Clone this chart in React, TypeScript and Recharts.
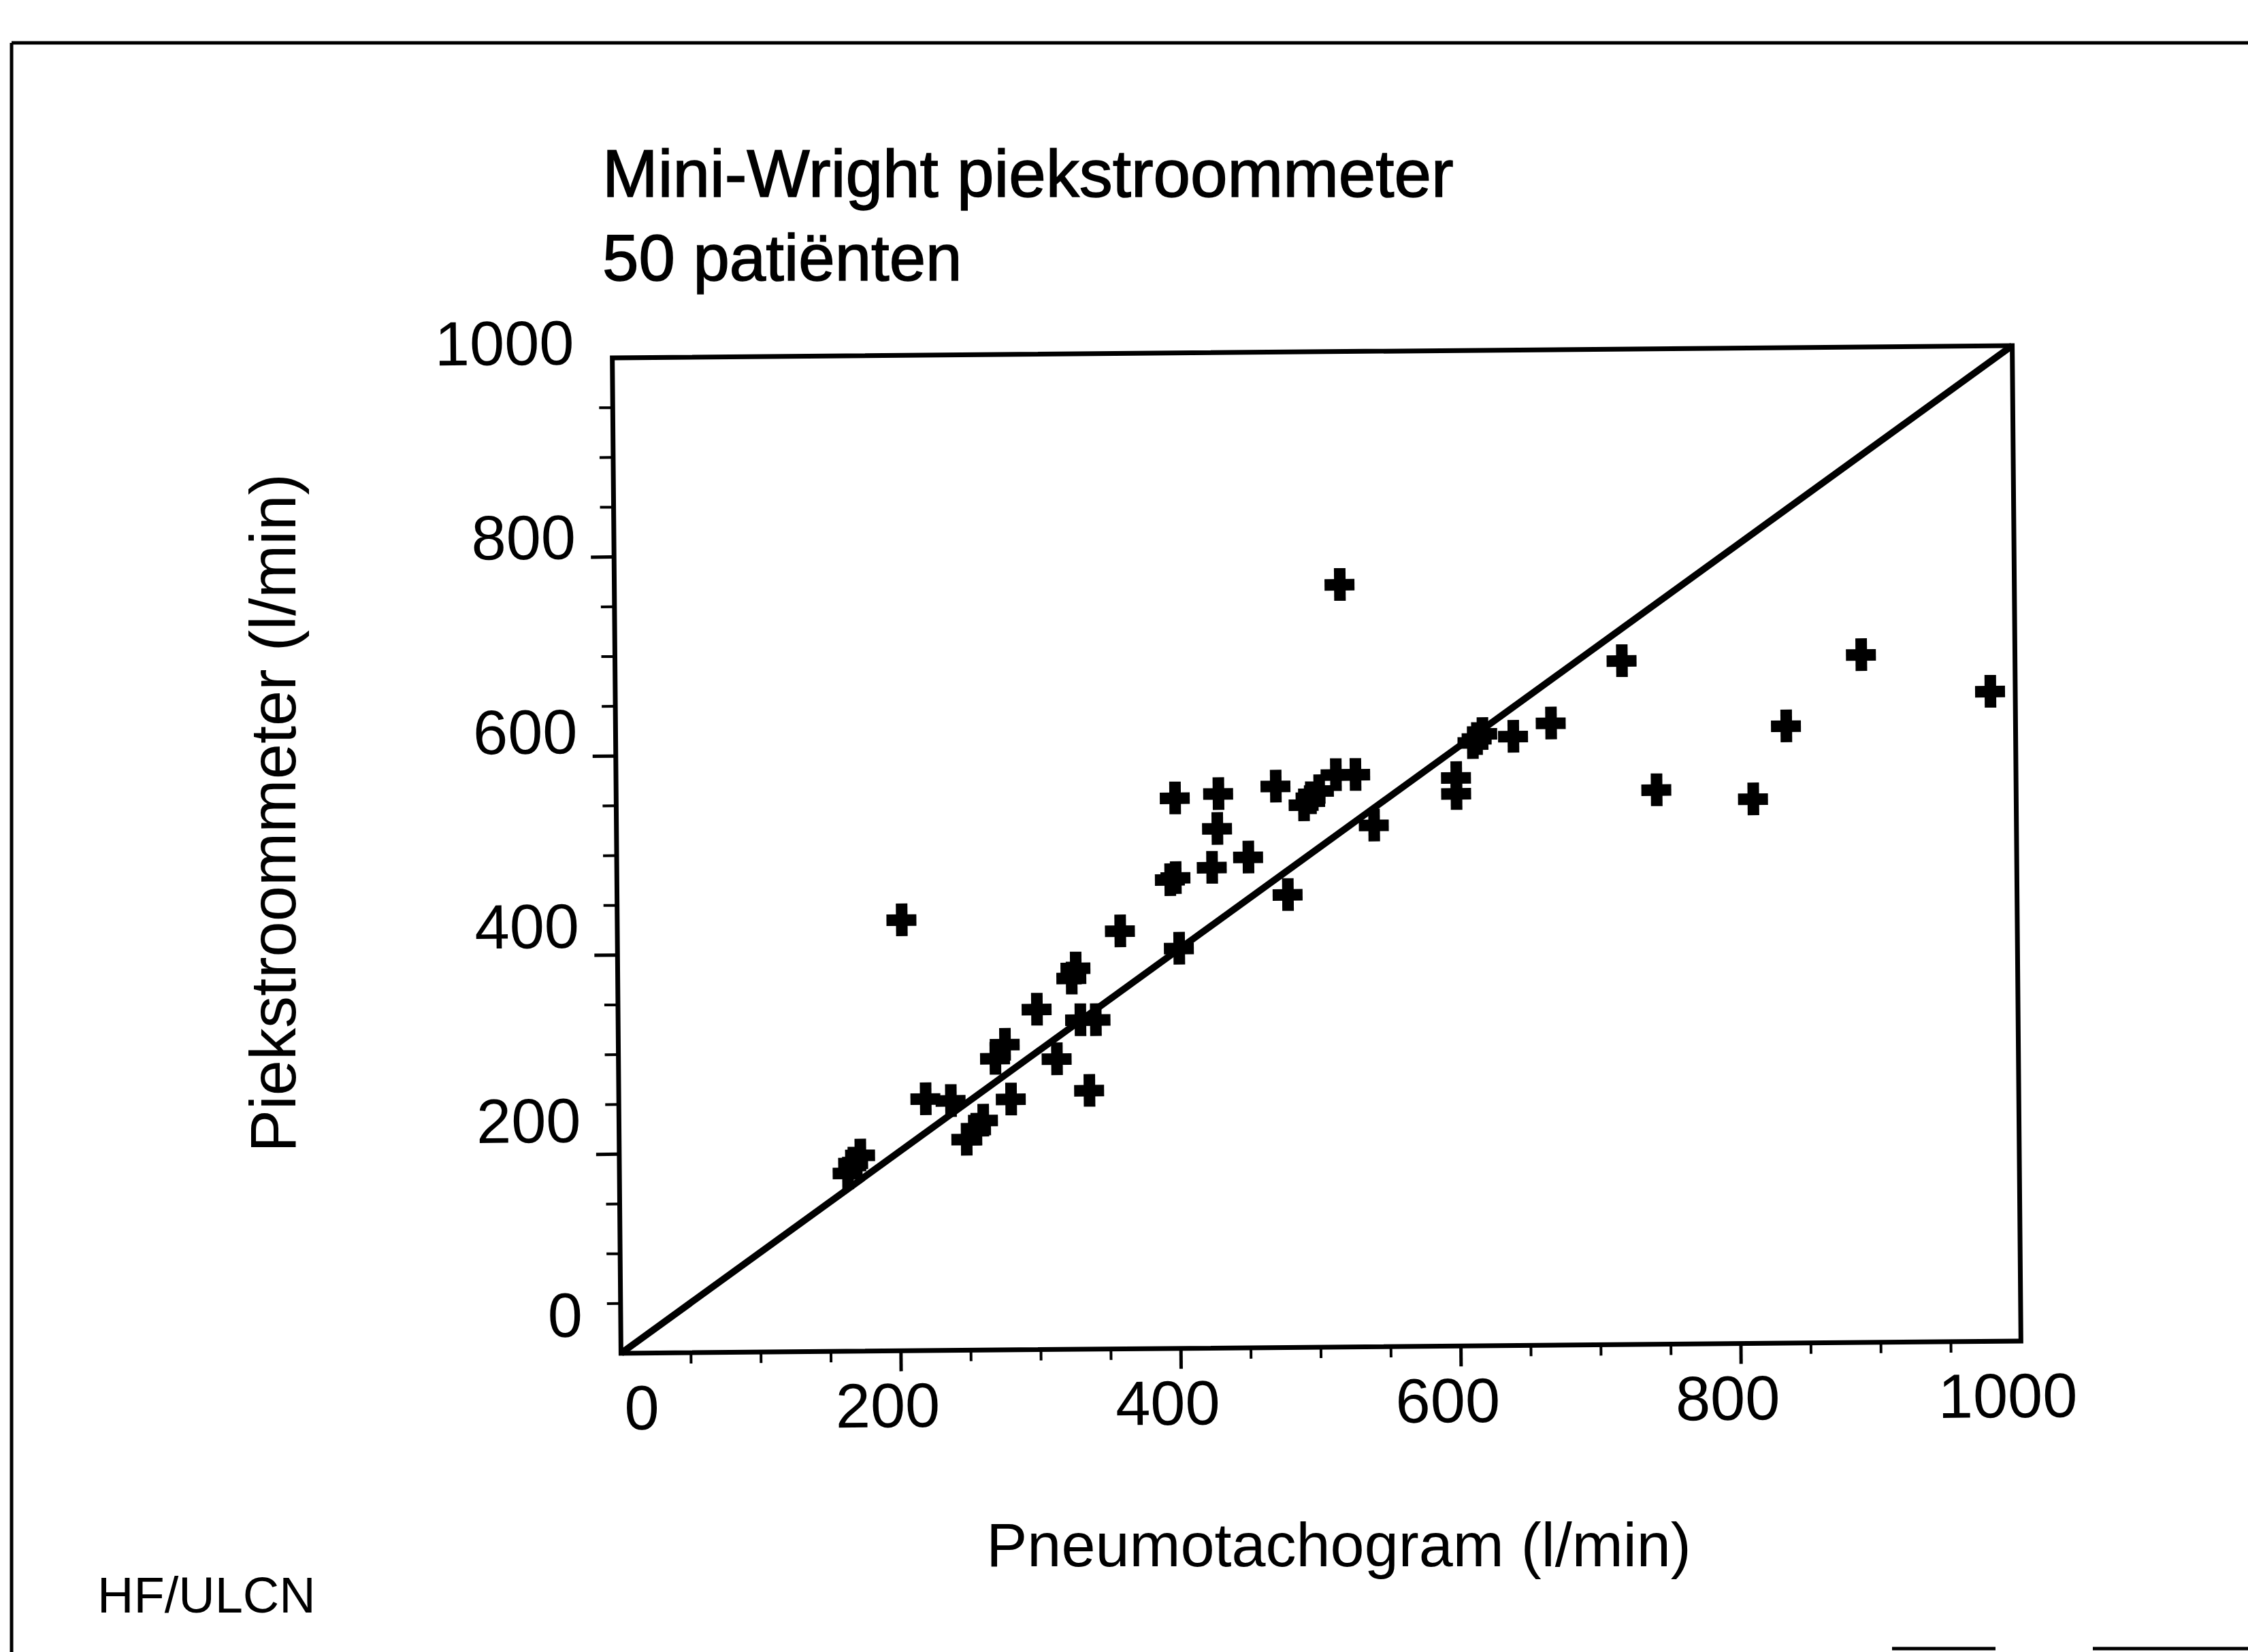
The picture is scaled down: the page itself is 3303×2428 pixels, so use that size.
import React from 'react'
import {
  ScatterChart,
  Scatter,
  XAxis,
  YAxis,
  ReferenceLine,
  ReferenceArea,
} from 'recharts'

// Pneumotachogram (l/min) against Mini-Wright reading (l/min), 50 patients
const pneumoValues = [
  163, 172, 167, 203, 219, 237, 248, 255, 260, 269, 276, 280, 299, 313, 327, 324, 330,
  341, 336, 359, 399, 399, 395, 401, 425, 430, 429, 451, 471, 479, 491, 496, 502, 514,
  528, 518, 541, 600, 600, 612, 619, 615, 641, 668, 719, 743, 812, 836, 890, 982,
]
const miniWrightValues = [
  179, 197, 189, 433, 253, 251, 212, 222, 231, 293, 307, 252, 342, 292, 383, 373, 331,
  331, 260, 420, 553, 473, 471, 402, 483, 557, 522, 493, 564, 455, 545, 552, 559, 575,
  575, 766, 524, 571, 555, 606, 615, 610, 612, 625, 687, 557, 547, 620, 691, 653,
]
const axisTicks = [
  0, 50, 100, 150, 200, 250, 300, 350, 400, 450, 500, 550, 600, 650, 700, 750, 800,
  850, 900, 950, 1000,
]
const identityLine = [
  { x: 0, y: 0 },
  { x: 1000, y: 1000 },
]

const titleLines = ['Mini-Wright piekstroommeter', '50 patiënten']
const xTitle = 'Pneumotachogram (l/min)'
const yTitle = 'Piekstroommeter (l/min)'
const footnote = 'HF/ULCN'

const FONT = '"Liberation Sans", Arial, Helvetica, sans-serif'
const W = 3303
const H = 2428

const data = pneumoValues.map((x, i) => ({ x, y: miniWrightValues[i] }))

// the scanned original sits the labels a bit above their ticks, more so lower down
function YTick(props: any) {
  const { x, y, payload } = props
  const v = payload.value
  const major = v % 200 === 0
  const shift = -24 - 0.034 * (1000 - v)
  return (
    <g>
      {v !== 0 && v !== 1000 && (
        <line x1={x} x2={x - (major ? 34 : 20)} y1={y} y2={y} stroke="#000" strokeWidth={major ? 5 : 4} />
      )}
      {major && (
        <text x={x - 56} y={y + shift + 33} textAnchor="end" fontSize={92} fontFamily={FONT} fill="#000">
          {v}
        </text>
      )}
    </g>
  )
}

function XTick(props: any) {
  const { x, y, payload } = props
  const v = payload.value
  const major = v % 200 === 0
  return (
    <g>
      {v !== 0 && v !== 1000 && (
        <line x1={x} x2={x} y1={y} y2={y + (major ? 30 : 16)} stroke="#000" strokeWidth={major ? 5 : 4} />
      )}
      {major && (
        <text x={x + (v === 0 ? 30 : -20)} y={y + 112} textAnchor="middle" fontSize={92} fontFamily={FONT} fill="#000">
          {v}
        </text>
      )}
    </g>
  )
}

function Plus(props: any) {
  const { cx, cy } = props
  if (cx == null || cy == null) return <g />
  return (
    <g fill="#000">
      <rect x={cx - 22} y={cy - 8} width={44} height={17} />
      <rect x={cx - 8} y={cy - 24} width={17} height={48} />
    </g>
  )
}

export default function App() {
  return (
    <div style={{ position: 'absolute', left: 0, top: 0, width: W, height: H, background: '#fff' }}>
      {/* the scan is turned a little; turn the plot with it */}
      <div
        style={{
          position: 'absolute',
          left: 0,
          top: 0,
          width: W,
          height: H,
          transform: 'rotate(-0.5deg)',
          transformOrigin: '1935px 1248px',
        }}
      >
        <ScatterChart
          width={W}
          height={H}
          margin={{ top: 517, right: 340, bottom: 248, left: 706 }}
        >
          <XAxis
            type="number"
            dataKey="x"
            domain={[0, 1000]}
            ticks={axisTicks}
            interval={0}
            allowDataOverflow
            axisLine={false}
            tickLine={false}
            tickSize={0}
            tickMargin={0}
            height={200}
            tick={<XTick />}
          />
          <YAxis
            type="number"
            dataKey="y"
            domain={[0, 1000]}
            ticks={axisTicks}
            interval={0}
            allowDataOverflow
            axisLine={false}
            tickLine={false}
            tickSize={0}
            tickMargin={0}
            width={200}
            tick={<YTick />}
          />
          <ReferenceArea x1={0} x2={1000} y1={0} y2={1000} fill="none" stroke="#000" strokeWidth={7} />
          <ReferenceLine segment={identityLine} stroke="#000" strokeWidth={10} />
          <Scatter data={data} shape={<Plus />} isAnimationActive={false} />
        </ScatterChart>
      </div>

      <svg
        width={W}
        height={H}
        style={{ position: 'absolute', left: 0, top: 0, pointerEvents: 'none' }}
        fontFamily={FONT}
      >
        <line x1={17} y1={63} x2={W} y2={63} stroke="#000" strokeWidth={5} />
        <line x1={17} y1={63} x2={17} y2={H} stroke="#000" strokeWidth={5} />
        <line x1={2780} y1={2423} x2={2932} y2={2423} stroke="#000" strokeWidth={5} />
        <line x1={3075} y1={2423} x2={W} y2={2423} stroke="#000" strokeWidth={5} />

        <text x={885} y={289} fontSize={98} fill="#000" stroke="#000" strokeWidth={1.5}>
          {titleLines[0]}
        </text>
        <text x={885} y={412} fontSize={96} fill="#000" stroke="#000" strokeWidth={1.5}>
          {titleLines[1]}
        </text>
        <text
          x={434}
          y={1195}
          fontSize={94}
          textAnchor="middle"
          fill="#000"
          transform="rotate(-90, 434, 1195)"
        >
          {yTitle}
        </text>
        <text x={1967} y={2302} fontSize={90} textAnchor="middle" fill="#000">
          {xTitle}
        </text>
        <text x={143} y={2370} fontSize={74} fill="#000">
          {footnote}
        </text>
      </svg>
    </div>
  )
}
